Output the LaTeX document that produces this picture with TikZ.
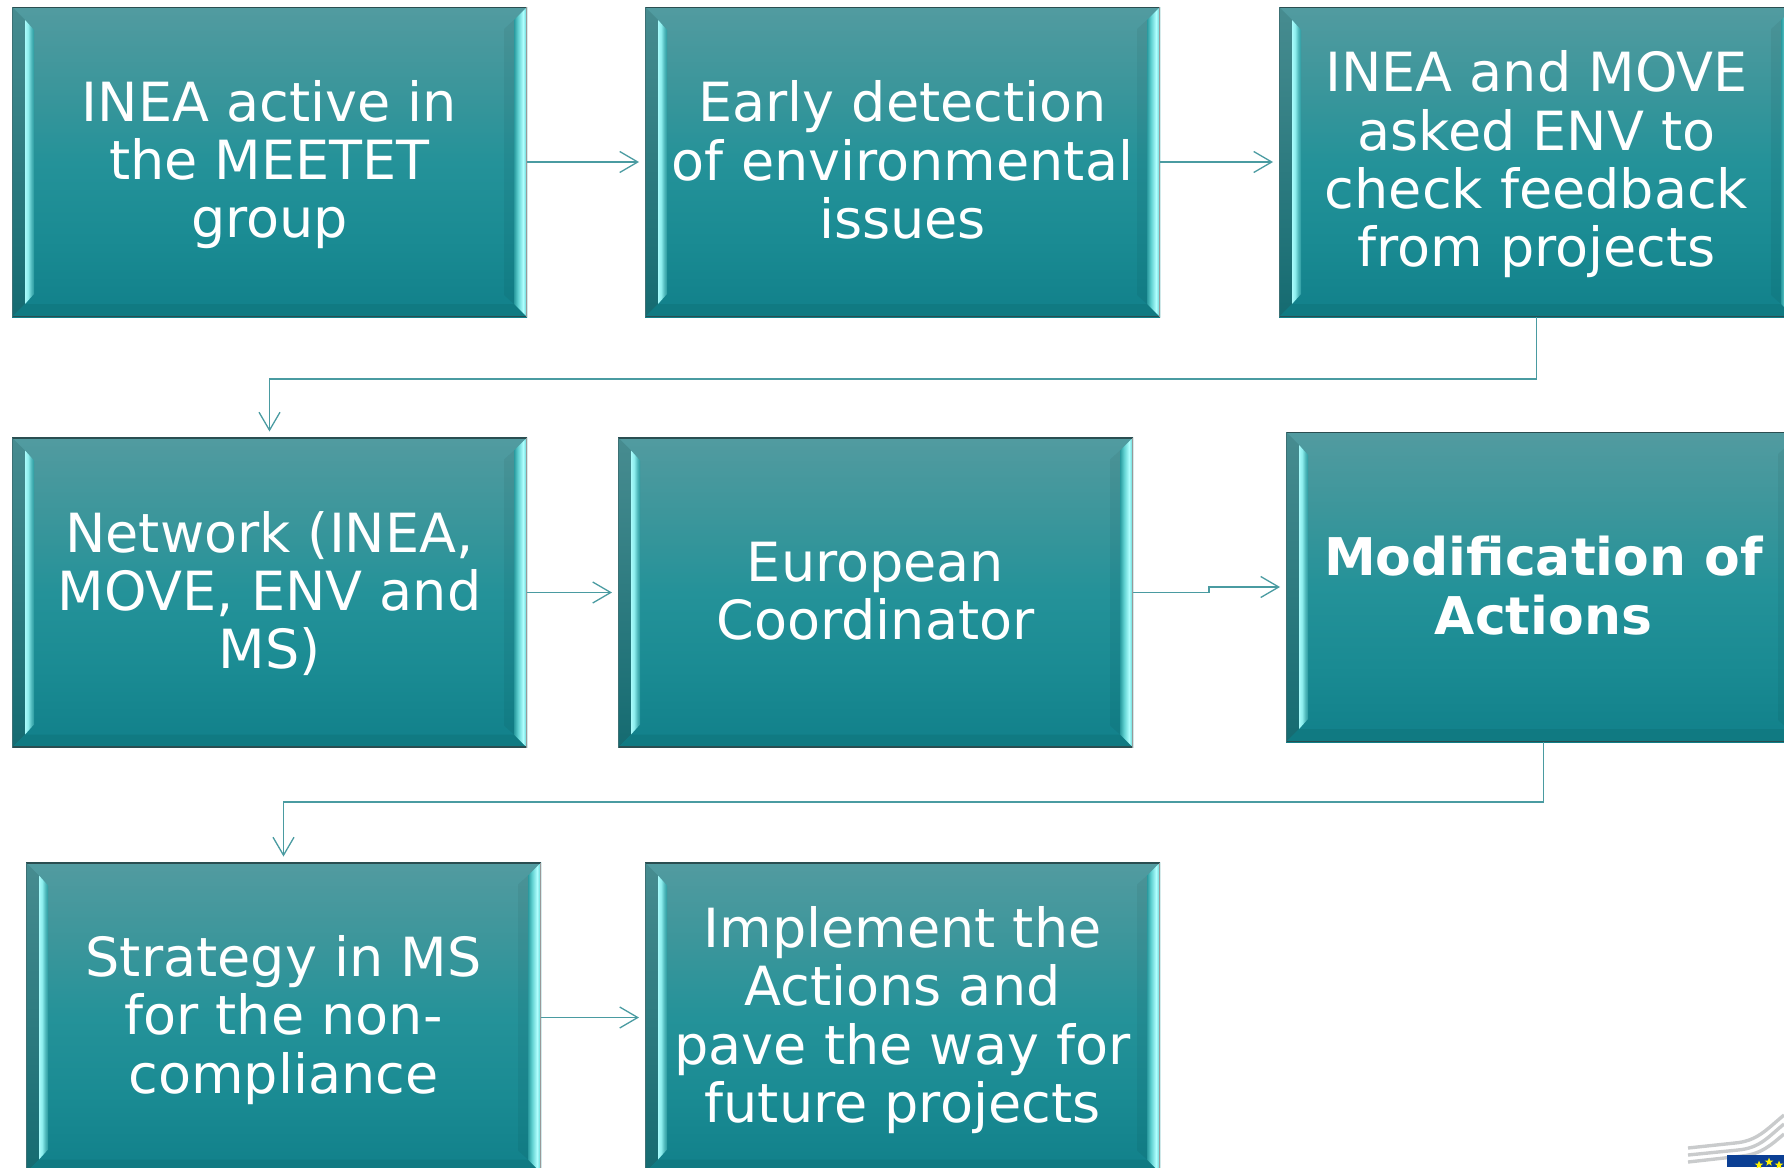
\documentclass[tikz,border=0pt]{standalone}
\usepackage{fontspec}
\setmainfont{DejaVu Sans}
\usetikzlibrary{arrows.meta,shapes.geometric}
\pgfdeclarelayer{backdrop}
\pgfsetlayers{backdrop,main}
\definecolor{linec}{HTML}{4A9BA1}
\definecolor{bordc}{HTML}{3C7074}
\definecolor{bevtop}{HTML}{478C90}
\definecolor{bevbot}{HTML}{156B71}
\definecolor{bevbase}{HTML}{107A82}
\definecolor{euroblue}{HTML}{0B3F94}
\definecolor{logoline}{HTML}{C9CBCC}
\definecolor{tA}{HTML}{11808A}
\definecolor{tB}{HTML}{1A8B93}
\definecolor{tC}{HTML}{249299}
\definecolor{tD}{HTML}{3C969B}
\definecolor{tE}{HTML}{529BA0}
\definecolor{rA}{HTML}{2A9A9F}
\definecolor{rB}{HTML}{5FD0D0}
\definecolor{rC}{HTML}{B0FFFF}
\definecolor{rD}{HTML}{7FE5E5}
\definecolor{rE}{HTML}{55BDBF}
\definecolor{lA}{HTML}{A8FBFB}
\definecolor{lB}{HTML}{8CEDED}
\definecolor{lC}{HTML}{4FB8BB}
\pgfdeclareverticalshading{tealbody}{100bp}{
 color(0bp)=(tA);color(25bp)=(tA);color(37.5bp)=(tB);color(50bp)=(tC);color(62.5bp)=(tD);color(75bp)=(tE);color(100bp)=(tE)}
\pgfdeclarehorizontalshading{rightstrip}{100bp}{
 color(0bp)=(rA);color(25bp)=(rA);color(40bp)=(rB);color(60bp)=(rC);color(68bp)=(rD);color(75bp)=(rE);color(100bp)=(rE)}
\pgfdeclarehorizontalshading{leftstrip}{100bp}{
 color(0bp)=(lA);color(25bp)=(lA);color(42bp)=(lB);color(60bp)=(lC);color(75bp)=(rA);color(100bp)=(rA)}
\tikzset{
 x=1pt,y=-1pt,
 bevelbox/.style={rectangle,minimum width=515pt,minimum height=310pt,inner sep=0pt,outer sep=0pt,
  align=center,text=white,font=\fontsize{54}{58.3}\selectfont},
 conn/.style={draw=linec,line width=1.5pt,-{Straight Barb[length=18pt,width=21pt,line width=1.3pt]},shorten >=6pt},
 logoarc/.style={draw=logoline,line width=3.4pt},
 eustar/.style={star,star points=5,star point ratio=2.4,fill=yellow,draw=none,inner sep=0pt,minimum size=9pt},
}
\newcommand{\boxstrut}{\rule[-10pt]{0pt}{56pt}}
\newcommand{\bevelnode}[3]{%
 \node[bevelbox] (#1) at (#2) {\boxstrut #3\boxstrut};
 \begin{pgfonlayer}{backdrop}
  \shade[shading=tealbody] (#1.north west) rectangle (#1.south east);
  \begin{scope}[shift={(#1.north west)}]
    \shade[top color=bevtop,bottom color=bevbot] (0,0)--(13,13)--(13,297)--(0,310)--cycle;
    \fill[black,opacity=.05] (502,13)--(492,22)--(492,288)--(502,297)--cycle;
    \fill[bevbase] (0,310)--(13,297)--(502,297)--(515,310)--cycle;
    \shade[shading=leftstrip] (13,13)--(22,23)--(22,287)--(13,297)--cycle;
    \shade[shading=rightstrip] (515,0)--(502,13)--(502,297)--(515,310)--cycle;
    \draw[bordc!70!black,line width=1.4pt] (0,0.5)--(515,0.5);
    \draw[bordc!70!black,line width=1.4pt] (0,309.5)--(515,309.5);
    \draw[bordc,line width=1.4pt] (0.5,0)--(0.5,310);
    \draw[gray!80,line width=1pt] (514.7,0)--(514.7,310);
  \end{scope}
 \end{pgfonlayer}}
\begin{document}
\begin{tikzpicture}
\useasboundingbox (0,0) rectangle (1784,1167);
\clip (0,0) rectangle (1784,1167);
\bevelnode{b1}{269.5,162}{INEA active in\\the MEETET\\group}
\bevelnode{b2}{902.5,162}{Early detection\\of environmental\\issues}
\bevelnode{b3}{1536.5,162}{INEA and MOVE\\asked ENV to\\check feedback\\from projects}
\bevelnode{b4}{269.5,592.5}{Network (INEA,\\MOVE, ENV and\\MS)}
\bevelnode{b5}{875.5,592.5}{European\\Coordinator}
\bevelnode{b6}{1543.5,587}{\fontsize{52}{58.3}\selectfont\bfseries Modification of\\\fontsize{52}{58.3}\selectfont\bfseries Actions}
\bevelnode{b7}{283.5,1017.5}{Strategy in MS\\for the non-\\compliance}
\bevelnode{b8}{902.5,1017.5}{Implement the\\Actions and\\pave the way for\\future projects}
\draw[conn] (b1.east) -- (b2.west);
\draw[conn] (b2.east) -- (b3.west);
\draw[conn] (b3.south) -- ++(0,62) -| (b4.north);
\draw[conn] (b4.east) -- (b5.west);
\draw[conn] (b5.east) -- ++(76,0) |- (b6.west);
\draw[conn] (b6.south) -- ++(0,60) -| (b7.north);
\draw[conn] (b7.east) -- (b8.west);
% logo
\draw[logoarc] (1688,1148) -- (1735,1143) .. controls (1757,1141) and (1766,1130) .. (1784,1115);
\draw[logoarc] (1688,1155) -- (1738,1150) .. controls (1760,1148) and (1768,1137) .. (1784,1124);
\draw[logoarc] (1688,1162) -- (1742,1156) .. controls (1762,1154) and (1772,1144) .. (1784,1134);
\fill[euroblue] (1727,1155) rectangle (1784,1167);
\node[eustar] (s1) at (1759,1165) {};
\node[eustar] (s2) at (1769,1162) {};
\node[eustar] (s3) at (1779,1165) {};
\end{tikzpicture}
\end{document}
